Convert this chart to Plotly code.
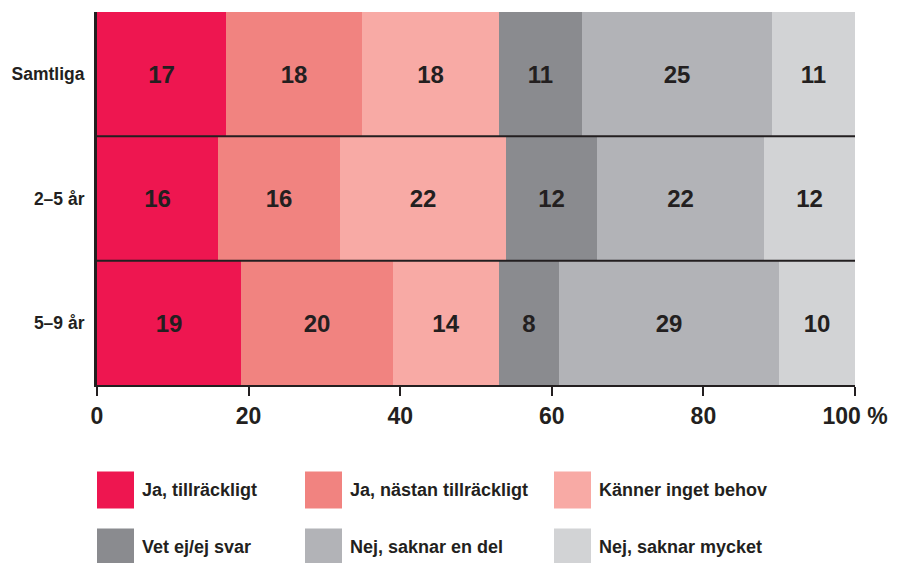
import plotly.graph_objects as go

categories = ["Samtliga", "2–5 år", "5–9 år"]
series_names = ["Ja, tillräckligt", "Ja, nästan tillräckligt", "Känner inget behov",
                "Vet ej/ej svar", "Nej, saknar en del", "Nej, saknar mycket"]
ja_tillrackligt = [17, 16, 19]
ja_nastan = [18, 16, 20]
kanner_inget = [18, 22, 14]
vet_ej = [11, 12, 8]
nej_en_del = [25, 22, 29]
nej_mycket = [11, 12, 10]
values = [ja_tillrackligt, ja_nastan, kanner_inget, vet_ej, nej_en_del, nej_mycket]
colors = ["#EE1650", "#F18380", "#F8AAA5", "#8A8B8F", "#B2B3B7", "#D2D3D5"]
tick_vals = [0, 20, 40, 60, 80, 100]
tick_text = ["0", "20", "40", "60", "80", "100 %"]

FONT = "Liberation Sans, Arial, sans-serif"
TXT = "#231F20"
W, H = 898, 563
L, R, T, B = 97, 43, 12, 178
PW, PH = W - L - R, H - T - B

fig = go.Figure()
for name, vals, col in zip(series_names, values, colors):
    fig.add_trace(go.Bar(
        y=categories, x=vals, name=name, orientation="h",
        marker=dict(color=col, line=dict(width=0)),
        text=[f"<b>{v}</b>" for v in vals], textposition="inside",
        insidetextanchor="middle",
        textfont=dict(family=FONT, size=24, color=TXT),
        showlegend=False,
    ))

# separators between bars
for yv in [0.5, 1.5]:
    fig.add_shape(type="line", xref="x", yref="y", x0=0, x1=100, y0=yv, y1=yv,
                  line=dict(color=TXT, width=2), layer="above")

# custom legend
def px(xp):
    return (xp - L) / PW
def py(yp):
    return (H - B - yp) / PH

leg_cols = [97, 305, 554]
leg_rows = [490, 547]
for i, (name, col) in enumerate(zip(series_names, colors)):
    r, c = divmod(i, 3)
    x0 = leg_cols[c]
    yc = leg_rows[r]
    fig.add_shape(type="rect", xref="paper", yref="paper",
                  x0=px(x0), x1=px(x0 + 37), y0=py(yc - 18.5), y1=py(yc + 18.5),
                  fillcolor=col, line=dict(width=0))
    fig.add_annotation(xref="paper", yref="paper", x=px(x0 + 43), y=py(yc),
                       text=f"<b>{name}</b>", showarrow=False, xanchor="left", yanchor="middle",
                       font=dict(family=FONT, size=18, color=TXT))

fig.update_layout(
    barmode="stack", bargap=0,
    width=W, height=H,
    margin=dict(l=L, r=R, t=T, b=B, autoexpand=False),
    paper_bgcolor="white", plot_bgcolor="white",
    font=dict(family=FONT, color=TXT),
    xaxis=dict(range=[0, 100], tickvals=tick_vals,
               ticktext=[f"<b>{t}</b>" for t in tick_text],
               ticks="outside", ticklen=9, tickwidth=2, tickcolor=TXT,
               showline=True, linewidth=2, linecolor=TXT, showgrid=False, zeroline=False,
               tickfont=dict(family=FONT, size=23, color=TXT)),
    yaxis=dict(categoryorder="array", categoryarray=categories[::-1],
               tickvals=categories, ticktext=[f"<b>{c}</b>" for c in categories],
               showline=True, linewidth=3, linecolor=TXT, showgrid=False, zeroline=False,
               ticks="", ticklabelstandoff=6,
               tickfont=dict(family=FONT, size=17.5, color=TXT)),
)

fig.write_html("out.html", config={"displayModeBar": False},
               post_script="document.body.style.margin='0px';")
